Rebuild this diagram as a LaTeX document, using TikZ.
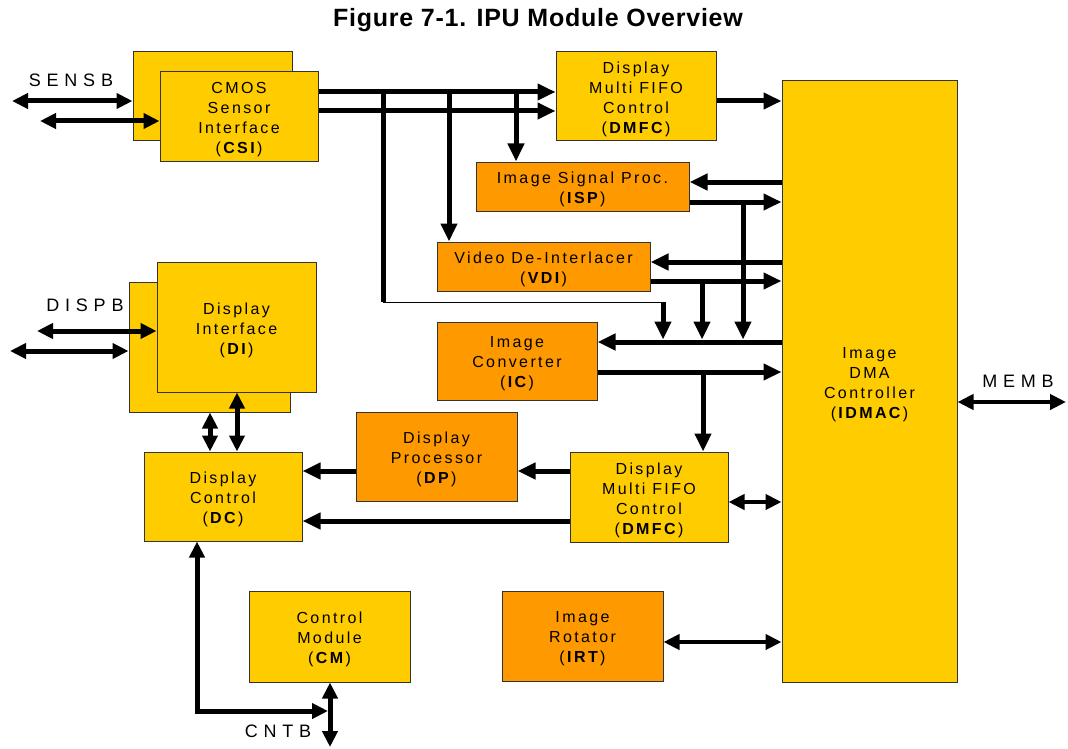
\documentclass[tikz,border=0pt]{standalone}
\usepackage{fontspec}
\setmainfont{Liberation Sans}
\newfontfamily\boxfont{Liberation Sans}[LetterSpace=15]
\newfontfamily\busfont{Liberation Sans}[LetterSpace=32]
\newfontfamily\titlefont{Liberation Sans}[LetterSpace=3]
\usetikzlibrary{arrows.meta}
\definecolor{ipuyellow}{HTML}{FFCC00}
\definecolor{ipuorange}{HTML}{FF9900}
\definecolor{edgegray}{HTML}{333333}
\begin{document}
\begin{tikzpicture}[x=1pt,y=-1pt,
  blk/.style={draw=edgegray, line width=1pt, inner sep=0pt},
  boxtext/.style={align=center, inner sep=0pt, yshift=-3pt,
              font=\boxfont\fontsize{16}{20}\selectfont},
  txt/.style={label={[boxtext]center:{#1}}},
  ylw/.style={blk, fill=ipuyellow},
  org/.style={blk, fill=ipuorange},
  bus/.style={line width=5pt},
  thinbus/.style={line width=1pt},
  tip/.style={-{Triangle[length=18pt,width=16pt]}},
  both/.style={{Triangle[length=16pt,width=15pt]}-{Triangle[length=16pt,width=15pt]}},
  lbl/.style={font=\busfont\fontsize{18}{20}\selectfont, inner sep=0pt}
]
\useasboundingbox (0,0) rectangle (1068,749);
\fill[white] (0,0) rectangle (1068,749);

% title
\node[font=\titlefont\bfseries\fontsize{25}{28}\selectfont] (title) at (538,20) {Figure 7-1. IPU Module Overview};

% second instances drawn behind
\node[ylw, minimum width=159, minimum height=89] (csib) at (212.5,96.5) {};
\node[ylw, minimum width=161, minimum height=130] (dib) at (209.5,347) {};

% blocks
\node[ylw, minimum width=158, minimum height=89, txt={CMOS\\Sensor\\Interface\\(\textbf{CSI})}] (csi) at (239,116.5) {};
\node[ylw, minimum width=160, minimum height=89, txt={Display\\Multi FIFO\\Control\\(\textbf{DMFC})}] (dmfc1) at (636,96.5) {};
\node[org, minimum width=213, minimum height=49, txt={Image Signal Proc.\\(\textbf{ISP})}] (isp) at (582.5,186.5) {};
\node[org, minimum width=213, minimum height=49, txt={Video De-Interlacer\\(\textbf{VDI})}] (vdi) at (543.5,266.5) {};
\node[org, minimum width=160, minimum height=78, txt={Image\\Converter\\(\textbf{IC})}] (ic) at (517,361) {};
\node[ylw, minimum width=175, minimum height=601, txt={Image\\DMA\\Controller\\(\textbf{IDMAC})}] (idmac) at (869.5,381.5) {};
\node[ylw, minimum width=159, minimum height=130, txt={Display\\Interface\\(\textbf{DI})}] (di) at (236.5,327) {};
\node[ylw, minimum width=158, minimum height=89, txt={Display\\Control\\(\textbf{DC})}] (dc) at (223,496.5) {};
\node[org, minimum width=161, minimum height=89, txt={Display\\Processor\\(\textbf{DP})}] (dp) at (436.5,456.5) {};
\node[ylw, minimum width=158, minimum height=90, txt={Display\\Multi FIFO\\Control\\(\textbf{DMFC})}] (dmfc2) at (649,497) {};
\node[ylw, minimum width=161, minimum height=91, txt={Control\\Module\\(\textbf{CM})}] (cm) at (329.5,636.5) {};
\node[org, minimum width=161, minimum height=90, txt={Image\\Rotator\\(\textbf{IRT})}] (irt) at (582.5,636) {};

% external bus labels
\node[lbl] (sensb) at (71,80) {SENSB};
\node[lbl] (dispb) at (85,305) {DISPB};
\node[lbl] (memb) at (1018,381) {MEMB};
\node[lbl] (cntb) at (278,731) {CNTB};

% free ends and junctions
\coordinate (sensbA) at (12,101);
\coordinate (sensbB) at (40,121);
\coordinate (dispbA) at (37,331);
\coordinate (dispbB) at (10,351);
\coordinate (membEnd) at (1066,402);
\coordinate (cntbEnd) at (330,747);
\coordinate (tapA) at (383,92);
\coordinate (tapAlow) at (383,302);
\coordinate (tapAend) at (663,302);
\coordinate (dcCorner) at (197,711);

% sensor bus
\draw[bus,both] (sensbA) -- (csib.west |- sensbA);
\draw[bus,both] (sensbB) -- (csi.west |- sensbB);

% CSI outputs
\draw[bus,tip] (csi.east |- 0,92) -- (dmfc1.west |- 0,92);
\draw[bus,tip] (csi.east |- 0,111) -- (dmfc1.west |- 0,111);
\draw[bus] (tapA) -- (tapAlow);
\draw[thinbus] (tapAlow) -- (tapAend);
\draw[bus,tip] (tapAend) -- (663,339.5);
\draw[bus,tip] (449,92) -- (vdi.north -| 449,0);
\draw[bus,tip] (516,92) -- (isp.north -| 516,0);

% DMFC / ISP / VDI / IC and IDMAC
\draw[bus,tip] (dmfc1.east |- 0,101) -- (idmac.west |- 0,101);
\draw[bus,tip] (idmac.west |- 0,182) -- (isp.east |- 0,182);
\draw[bus,tip] (isp.east |- 0,202) -- (idmac.west |- 0,202);
\draw[bus,tip] (743,202) -- (743,339.5);
\draw[bus,tip] (idmac.west |- 0,262) -- (vdi.east |- 0,262);
\draw[bus,tip] (vdi.east |- 0,281) -- (idmac.west |- 0,281);
\draw[bus,tip] (702,281) -- (702,339.5);
\draw[bus,tip] (idmac.west |- 0,342) -- (ic.east |- 0,342);
\draw[bus,tip] (ic.east |- 0,372) -- (idmac.west |- 0,372);
\draw[bus,tip] (703,372) -- (dmfc2.north -| 703,0);

% display path
\draw[bus,tip] (dmfc2.west |- 0,471) -- (dp.east |- 0,471);
\draw[bus,tip] (dp.west |- 0,471) -- (dc.east |- 0,471);
\draw[bus,tip] (dmfc2.west |- 0,521) -- (dc.east |- 0,521);
\draw[line width=4pt,both] (dmfc2.east |- 0,502) -- (idmac.west |- 0,502);
\draw[line width=4pt,both] (irt.east |- 0,642) -- (idmac.west |- 0,642);
\draw[line width=4pt,both] (idmac.east |- membEnd) -- (membEnd);

% display bus
\draw[bus,both] (dispbA) -- (di.west |- dispbA);
\draw[bus,both] (dispbB) -- (dib.west |- dispbB);
\draw[bus,both] (dib.south -| 210,0) -- (dc.north -| 210,0);
\draw[bus,both] (di.south -| 237,0) -- (dc.north -| 237,0);

% control bus
\draw[bus,both] (dc.south -| dcCorner) -- (dcCorner) -- (328,711);
\draw[bus,both] (cm.south -| cntbEnd) -- (cntbEnd);
\end{tikzpicture}
\end{document}
